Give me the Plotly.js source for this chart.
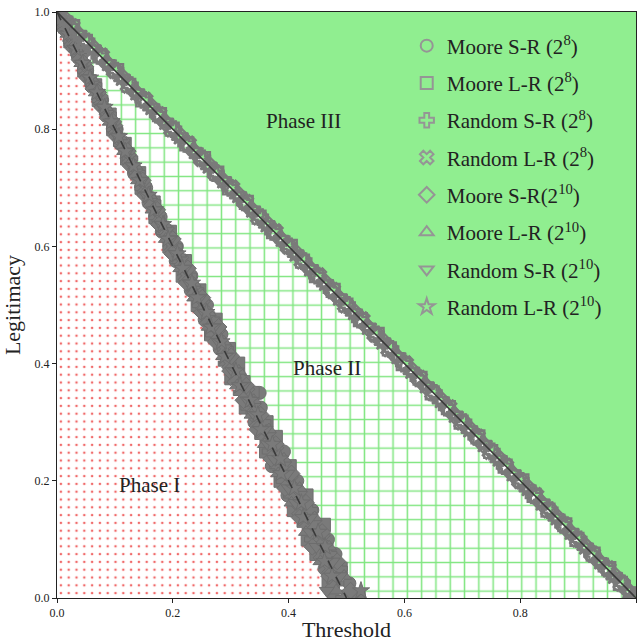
<!DOCTYPE html>
<html><head><meta charset="utf-8">
<script src="https://cdn.plot.ly/plotly-3.0.1.min.js"></script>
<style>html,body{margin:0;padding:0;background:#fff}#chart{width:641px;height:644px}</style>
</head><body><div id="chart"></div>
<script>
// Legitimacy levels sampled (2^8 runs use levA, 2^10 runs use levB)
const levA = [0,0.025,0.05,0.075,0.1,0.125,0.15,0.175,0.2,0.225,0.25,0.275,0.3,0.325,0.35,0.375,0.4,0.425,0.45,0.475,0.5,0.525,0.55,0.575,0.6,0.625,0.65,0.675,0.7,0.725,0.75,0.775,0.8,0.825,0.85,0.875,0.9,0.925,0.95,0.975,1.0];
const levB = [0.0125,0.0375,0.0625,0.0875,0.1125,0.1375,0.1625,0.1875,0.2125,0.2375,0.2625,0.2875,0.3125,0.3375,0.3625,0.3875,0.4125,0.4375,0.4625,0.4875,0.5125,0.5375,0.5625,0.5875,0.6125,0.6375,0.6625,0.6875,0.7125,0.7375,0.7625,0.7875,0.8125,0.8375,0.8625,0.8875,0.9125,0.9375,0.9625,0.9875];

// Phase I/II transition thresholds
const mooreSR8_low = [0.478,0.505,0.462,0.481,0.468,0.452,0.441,0.398,0.415,0.371,0.392,0.371,0.341,0.352,0.35,0.318,0.309,0.281,0.284,0.255,0.259,0.231,0.232,0.205,0.207,0.181,0.179,0.158,0.154,0.133,0.128,0.109,0.103,0.085,0.078,0.060,0.052,0.036,0.026,0.011,0.002];
const mooreLR8_low = [0.521,0.469,0.490,0.448,0.433,0.461,0.409,0.431,0.386,0.402,0.361,0.378,0.362,0.326,0.338,0.301,0.313,0.297,0.266,0.274,0.243,0.246,0.217,0.221,0.194,0.195,0.170,0.167,0.146,0.142,0.121,0.117,0.097,0.091,0.072,0.066,0.047,0.040,0.023,0.014,0.0];
const randSR8_low = [0.495,0.482,0.488,0.470,0.441,0.428,0.437,0.405,0.392,0.381,0.368,0.355,0.356,0.331,0.318,0.320,0.292,0.291,0.270,0.268,0.247,0.240,0.228,0.209,0.203,0.185,0.172,0.166,0.148,0.139,0.126,0.111,0.099,0.089,0.074,0.064,0.049,0.039,0.025,0.013,0.001];
const randLR8_low = [0.512,0.476,0.470,0.455,0.459,0.444,0.418,0.420,0.404,0.392,0.379,0.365,0.344,0.340,0.329,0.306,0.297,0.289,0.278,0.258,0.252,0.236,0.222,0.215,0.198,0.190,0.176,0.161,0.151,0.136,0.124,0.114,0.101,0.086,0.076,0.061,0.051,0.037,0.024,0.012,0.0];
const mooreSR10_low = [0.507,0.470,0.484,0.441,0.458,0.419,0.430,0.394,0.405,0.370,0.378,0.346,0.352,0.322,0.327,0.299,0.301,0.274,0.279,0.250,0.251,0.224,0.226,0.199,0.200,0.176,0.173,0.152,0.148,0.127,0.122,0.103,0.097,0.078,0.071,0.053,0.046,0.029,0.020,0.005];
const mooreLR10_low = [0.482,0.496,0.455,0.470,0.430,0.445,0.405,0.419,0.382,0.392,0.359,0.366,0.336,0.340,0.311,0.314,0.287,0.288,0.262,0.262,0.237,0.236,0.213,0.211,0.188,0.186,0.165,0.160,0.140,0.135,0.116,0.109,0.091,0.084,0.067,0.059,0.042,0.033,0.018,0.007];
const randSR10_low = [0.466,0.489,0.476,0.448,0.437,0.438,0.412,0.400,0.398,0.375,0.364,0.360,0.341,0.329,0.322,0.303,0.297,0.279,0.271,0.254,0.246,0.229,0.221,0.205,0.196,0.180,0.171,0.154,0.146,0.130,0.121,0.105,0.096,0.080,0.070,0.055,0.045,0.030,0.019,0.006];
const randLR10_low = [0.525,0.475,0.462,0.463,0.451,0.425,0.422,0.410,0.387,0.386,0.372,0.352,0.347,0.334,0.316,0.309,0.290,0.284,0.266,0.258,0.242,0.233,0.217,0.208,0.192,0.183,0.168,0.158,0.143,0.132,0.118,0.107,0.094,0.082,0.069,0.057,0.044,0.032,0.019,0.006];

// Phase II/III transition thresholds
const mooreSR8_up = [0.997,0.978,0.951,0.922,0.902,0.873,0.852,0.826,0.797,0.776,0.752,0.723,0.701,0.674,0.652,0.623,0.601,0.577,0.548,0.526,0.502,0.473,0.451,0.427,0.398,0.376,0.352,0.323,0.301,0.277,0.248,0.226,0.202,0.173,0.151,0.127,0.098,0.076,0.052,0.023,0.002];
const mooreLR8_up = [1.0,0.973,0.953,0.926,0.898,0.877,0.848,0.824,0.803,0.774,0.749,0.727,0.698,0.676,0.648,0.627,0.598,0.574,0.553,0.524,0.499,0.477,0.448,0.424,0.403,0.374,0.349,0.327,0.298,0.276,0.253,0.224,0.199,0.177,0.148,0.124,0.103,0.074,0.049,0.027,0.0];
const randSR8_up = [0.996,0.976,0.949,0.924,0.901,0.874,0.851,0.823,0.801,0.773,0.751,0.724,0.702,0.673,0.651,0.624,0.599,0.576,0.551,0.523,0.501,0.474,0.449,0.426,0.401,0.373,0.351,0.324,0.299,0.274,0.251,0.223,0.201,0.174,0.149,0.126,0.101,0.073,0.051,0.024,0.001];
const randLR8_up = [0.999,0.974,0.952,0.925,0.899,0.876,0.849,0.827,0.799,0.775,0.748,0.726,0.699,0.677,0.649,0.626,0.602,0.573,0.549,0.527,0.498,0.476,0.452,0.423,0.399,0.377,0.348,0.326,0.302,0.273,0.249,0.227,0.198,0.176,0.152,0.123,0.099,0.077,0.048,0.026,0.002];
const mooreSR10_up = [0.986,0.964,0.936,0.914,0.886,0.864,0.836,0.814,0.786,0.764,0.736,0.714,0.686,0.664,0.636,0.614,0.586,0.564,0.536,0.514,0.486,0.464,0.436,0.414,0.386,0.364,0.336,0.314,0.286,0.264,0.236,0.214,0.186,0.164,0.136,0.114,0.086,0.064,0.036,0.014];
const mooreLR10_up = [0.989,0.961,0.939,0.911,0.889,0.861,0.839,0.811,0.789,0.761,0.739,0.711,0.689,0.661,0.639,0.611,0.589,0.561,0.539,0.511,0.489,0.461,0.439,0.411,0.389,0.361,0.339,0.311,0.289,0.261,0.239,0.211,0.189,0.161,0.139,0.111,0.089,0.061,0.039,0.011];
const randSR10_up = [0.988,0.963,0.937,0.913,0.888,0.862,0.838,0.812,0.788,0.762,0.738,0.713,0.688,0.662,0.638,0.613,0.587,0.563,0.538,0.512,0.488,0.462,0.438,0.413,0.387,0.363,0.338,0.312,0.288,0.263,0.237,0.213,0.188,0.162,0.138,0.113,0.087,0.063,0.038,0.012];
const randLR10_up = [0.987,0.962,0.938,0.912,0.887,0.863,0.837,0.813,0.787,0.763,0.737,0.712,0.687,0.663,0.637,0.612,0.588,0.562,0.537,0.513,0.487,0.463,0.437,0.412,0.388,0.362,0.337,0.313,0.287,0.262,0.238,0.212,0.187,0.163,0.137,0.112,0.088,0.062,0.037,0.013];

const seriesNames = ['Moore S-R (2<sup>8</sup>)','Moore L-R (2<sup>8</sup>)','Random S-R (2<sup>8</sup>)','Random L-R (2<sup>8</sup>)','Moore S-R(2<sup>10</sup>)','Moore L-R (2<sup>10</sup>)','Random S-R (2<sup>10</sup>)','Random L-R (2<sup>10</sup>)'];
const lowSets = [mooreSR8_low,mooreLR8_low,randSR8_low,randLR8_low,mooreSR10_low,mooreLR10_low,randSR10_low,randLR10_low];
const upSets = [mooreSR8_up,mooreLR8_up,randSR8_up,randLR8_up,mooreSR10_up,mooreLR10_up,randSR10_up,randLR10_up];
const levSets = [levA,levA,levA,levA,levB,levB,levB,levB];
const symbols = ['circle','square','cross','x','diamond','triangle-up','triangle-down','star'];

// Phase regions
const phase1X = [0,0,0.5,0], phase1Y = [0,1,0,0];
const phase2X = [0,0.5,1,0], phase2Y = [1,0,0,1];
const phase3X = [0,1,1,0], phase3Y = [1,1,0,1];
// Theoretical boundaries
const bLowX = [0,0.5], bLowY = [1,0];
const bUpX = [0,1], bUpY = [1,0];
const phaseLabels = ['Phase I','Phase II','Phase III'];
const phaseLabX = [0.159,0.466,0.425], phaseLabY = [0.193,0.392,0.814];

const FONT = 'Liberation Serif, DejaVu Serif, serif';
const GRAY = '#7a7a7a';
const traces = [];
traces.push({x:phase1X,y:phase1Y,mode:'lines',fill:'toself',line:{width:0},fillcolor:'white',
  fillpattern:{shape:'.',fgcolor:'#f06a6a',bgcolor:'white',size:7.8,solidity:0.085},showlegend:false,hoverinfo:'skip'});
traces.push({x:phase2X,y:phase2Y,mode:'lines',fill:'toself',line:{width:0},fillcolor:'white',
  fillpattern:{shape:'+',fgcolor:'#80e680',bgcolor:'white',size:14.3,solidity:0.2},showlegend:false,hoverinfo:'skip'});
traces.push({x:phase3X,y:phase3Y,mode:'lines',fill:'toself',line:{width:0},fillcolor:'#90ee90',showlegend:false,hoverinfo:'skip'});

// legend entries (open symbols, as in the key)
for (let i=0;i<8;i++){
  traces.push({x:[null],y:[null],mode:'markers',name:seriesNames[i],legendgroup:'g'+i,
    marker:{symbol:symbols[i]+'-open',size:13,color:'#959595',line:{width:1,color:'#959595'}}});
}
// Phase I/II boundary runs
for (let i=0;i<8;i++){
  traces.push({x:lowSets[i],y:levSets[i],mode:'markers',name:seriesNames[i],legendgroup:'g'+i,showlegend:false,
    marker:{symbol:symbols[i],size:13,color:GRAY,line:{width:1,color:'#6e6e6e'}}});
}
// Phase II/III boundary runs
for (let i=0;i<8;i++){
  traces.push({x:upSets[i],y:levSets[i],mode:'markers',name:seriesNames[i],legendgroup:'g'+i,showlegend:false,
    marker:{symbol:symbols[i]+'-open',size:13,color:GRAY,line:{width:2.2,color:GRAY}}});
}
traces.push({x:bLowX,y:bLowY,mode:'lines',line:{color:'#3a3a3a',width:1.6,dash:'dash'},showlegend:false,hoverinfo:'skip'});
traces.push({x:bUpX,y:bUpY,mode:'lines',line:{color:'#3a3a3a',width:1.6},showlegend:false,hoverinfo:'skip'});

const annotations = phaseLabels.map((t,i)=>({x:phaseLabX[i],y:phaseLabY[i],xref:'x',yref:'y',text:t,showarrow:false,
  font:{family:FONT,size:21,color:'#222'}}));

const axisCommon = {range:[0,1],showgrid:false,zeroline:false,showline:true,mirror:true,linecolor:'#222',linewidth:1,
  ticks:'outside',ticklen:4,tickcolor:'#222',dtick:0.2,tickformat:'.1f',tickfont:{family:FONT,size:12,color:'#222'}};

const layout = {
  width:641,height:644,margin:{l:57,r:5,t:12,b:46},
  paper_bgcolor:'white',plot_bgcolor:'white',
  xaxis:Object.assign({},axisCommon,{title:{text:'Threshold',font:{family:FONT,size:22,color:'#222'},standoff:2}}),
  yaxis:Object.assign({},axisCommon,{title:{text:'Legitimacy',font:{family:FONT,size:22,color:'#222'},standoff:10}}),
  legend:{x:0.604,y:0.977,xanchor:'left',yanchor:'top',bgcolor:'rgba(0,0,0,0)',borderwidth:0,
    font:{family:FONT,size:21,color:'#222'},tracegroupgap:7,itemsizing:'constant'},
  annotations:annotations,
  showlegend:true
};
Plotly.newPlot('chart',traces,layout,{displayModeBar:false,staticPlot:true});
</script>
</body></html>
